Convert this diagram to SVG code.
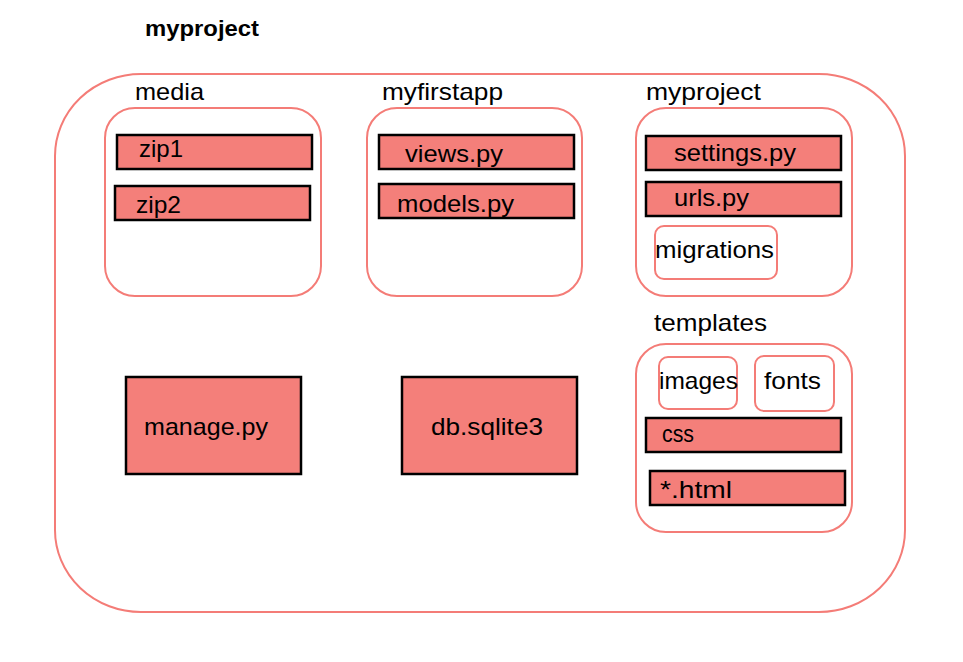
<svg xmlns="http://www.w3.org/2000/svg" width="963" height="662" viewBox="0 0 963 662">
<style>
.t{font-family:"Liberation Sans",Arial,sans-serif;font-size:24px;fill:#000}
.b{font-family:"Liberation Sans",Arial,sans-serif;font-size:22px;font-weight:bold;fill:#000}
.dir{fill:#fff;stroke:#F47C77;stroke-width:2}
.file{fill:#F47F7A;stroke:#000;stroke-width:2.5}
</style>
<rect width="963" height="662" fill="#fff"/>
<g id="root">
<text class="b" x="145" y="36" textLength="114" lengthAdjust="spacingAndGlyphs">myproject</text>
<rect class="dir" x="55" y="74" width="850" height="538" rx="86" ry="82"/>
</g>
<g id="media">
<text class="t" x="135" y="100" textLength="69" lengthAdjust="spacingAndGlyphs">media</text>
<rect class="dir" x="105" y="108" width="216" height="188" rx="30"/>
</g>
<g id="zip1"><rect class="file" x="117" y="135" width="195" height="34"/><text class="t" x="139" y="157" textLength="44" lengthAdjust="spacingAndGlyphs">zip1</text></g>
<g id="zip2"><rect class="file" x="115" y="186" width="195" height="34"/><text class="t" x="136" y="213" textLength="45" lengthAdjust="spacingAndGlyphs">zip2</text></g>
<g id="myfirstapp">
<text class="t" x="382" y="100" textLength="121" lengthAdjust="spacingAndGlyphs">myfirstapp</text>
<rect class="dir" x="367" y="108" width="215" height="188" rx="30"/>
</g>
<g id="views"><rect class="file" x="379" y="135" width="195" height="34"/><text class="t" x="405" y="162" textLength="98" lengthAdjust="spacingAndGlyphs">views.py</text></g>
<g id="models"><rect class="file" x="379" y="184" width="195" height="34"/><text class="t" x="397" y="212" textLength="117" lengthAdjust="spacingAndGlyphs">models.py</text></g>
<g id="myproject">
<text class="t" x="646" y="100" textLength="115" lengthAdjust="spacingAndGlyphs">myproject</text>
<rect class="dir" x="636" y="108" width="216" height="188" rx="30"/>
</g>
<g id="settings"><rect class="file" x="646" y="136" width="195" height="34"/><text class="t" x="674" y="161" textLength="122" lengthAdjust="spacingAndGlyphs">settings.py</text></g>
<g id="urls"><rect class="file" x="646" y="182" width="195" height="34"/><text class="t" x="674" y="206" textLength="75" lengthAdjust="spacingAndGlyphs">urls.py</text></g>
<g id="migrations"><rect class="dir" x="655" y="226" width="122" height="53" rx="9"/><text class="t" x="655" y="258" textLength="119" lengthAdjust="spacingAndGlyphs">migrations</text></g>
<g id="templates">
<text class="t" x="654" y="331" textLength="113" lengthAdjust="spacingAndGlyphs">templates</text>
<rect class="dir" x="636" y="344" width="216" height="188" rx="30"/>
</g>
<g id="images"><rect class="dir" x="659" y="357" width="78" height="52" rx="9"/><text class="t" x="659" y="389" textLength="79" lengthAdjust="spacingAndGlyphs">images</text></g>
<g id="fonts"><rect class="dir" x="755" y="356" width="79" height="55" rx="9"/><text class="t" x="764" y="389" textLength="57" lengthAdjust="spacingAndGlyphs">fonts</text></g>
<g id="css"><rect class="file" x="646" y="418" width="195" height="34"/><text class="t" x="662" y="442" textLength="32" lengthAdjust="spacingAndGlyphs">css</text></g>
<g id="html"><rect class="file" x="650" y="471" width="195" height="34"/><text class="t" x="660" y="498" textLength="72" lengthAdjust="spacingAndGlyphs">*.html</text></g>
<g id="manage"><rect class="file" x="126" y="377" width="175" height="97"/><text class="t" x="144" y="435" textLength="124" lengthAdjust="spacingAndGlyphs">manage.py</text></g>
<g id="db"><rect class="file" x="402" y="377" width="175" height="97"/><text class="t" x="431" y="435" textLength="112" lengthAdjust="spacingAndGlyphs">db.sqlite3</text></g>
<g id="connectors"></g>
</svg>
